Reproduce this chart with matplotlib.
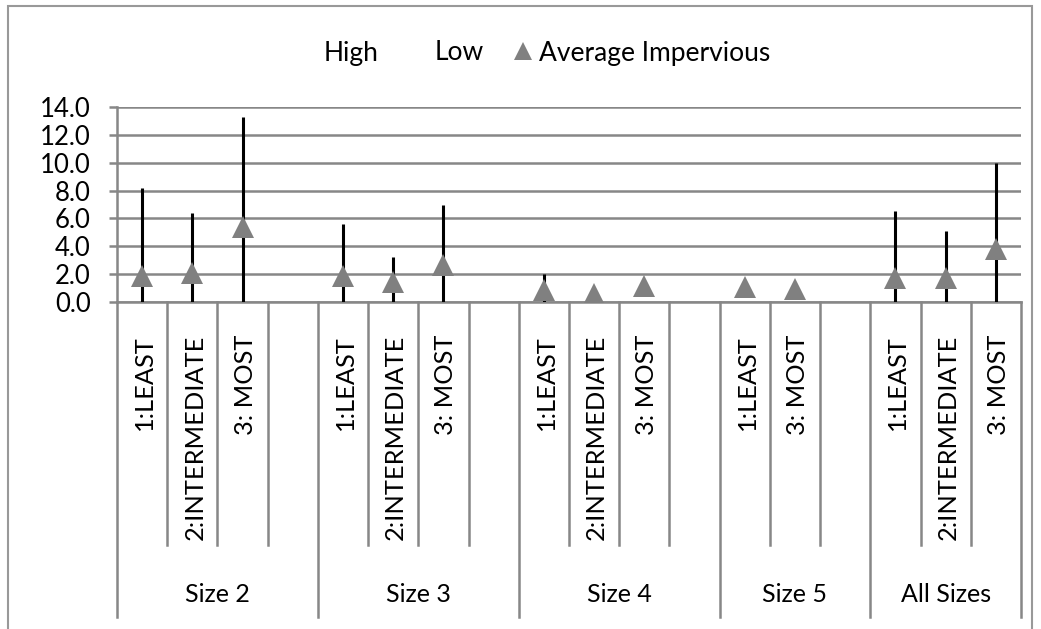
import matplotlib.pyplot as plt
import numpy as np
from matplotlib.lines import Line2D
from matplotlib.patches import Rectangle

plt.rcParams['font.family'] = ['Lato', 'DejaVu Sans']

# 18 category slots, blank slots separate the groups
groups = ["Size 2", "Size 3", "Size 4", "Size 5", "All Sizes"]
group_slots = [4, 4, 4, 3, 3]
labels = ["1:LEAST", "2:INTERMEDIATE", "3: MOST", "",
          "1:LEAST", "2:INTERMEDIATE", "3: MOST", "",
          "1:LEAST", "2:INTERMEDIATE", "3: MOST", "",
          "1:LEAST", "3: MOST", "",
          "1:LEAST", "2:INTERMEDIATE", "3: MOST"]
nan = np.nan
high = [8.2, 6.4, 13.3, nan,
        5.6, 3.2, 7.0, nan,
        2.0, nan, nan, nan,
        nan, nan, nan,
        6.5, 5.1, 10.0]
low = [0.0, 0.0, 0.0, nan,
       0.0, 0.0, 0.0, nan,
       0.0, nan, nan, nan,
       nan, nan, nan,
       0.0, 0.0, 0.0]
avg = [1.9, 2.05, 5.35, nan,
       1.87, 1.46, 2.66, nan,
       0.85, 0.57, 1.17, nan,
       1.08, 0.93, nan,
       1.75, 1.72, 3.78]

grey = "#878787"
x = np.arange(len(labels)) + 0.5

fig = plt.figure(figsize=(10.41, 6.29), dpi=100)
ax = fig.add_axes([117/1041, 1 - 302/629, (1021 - 117)/1041, 195/629])

ax.vlines(x, low, high, color="black", lw=2.2, zorder=3)
ax.plot(x, avg, ls="none", marker="^", ms=15.5, color="#808080", mew=0, zorder=4)

ax.set_xlim(0, len(labels))
ax.set_ylim(0, 14)
ax.set_yticks(np.arange(0, 15, 2))
ax.set_yticklabels([f"{v:.1f}" for v in np.arange(0, 15, 2)], fontsize=18.5)
ax.yaxis.grid(True, color=grey, lw=1.8)
ax.set_axisbelow(True)
ax.tick_params(axis="y", length=6, width=1.8, color=grey, pad=13)
ax.set_xticks([])
for s in ["top", "right"]:
    ax.spines[s].set_visible(False)
for s in ["left", "bottom"]:
    ax.spines[s].set_color(grey)
    ax.spines[s].set_linewidth(1.8)

# two-level category axis
tr = ax.get_xaxis_transform()
inner_bot = -243/195
outer_bot = -315/195
start = 0
for g, n in zip(groups, group_slots):
    ax.plot([start, start], [0, outer_bot], transform=tr, color=grey, lw=1.8, clip_on=False)
    for k in range(1, n):
        ax.plot([start + k, start + k], [0, inner_bot], transform=tr, color=grey, lw=1.8, clip_on=False)
    ax.text(start + n / 2, -292/195, g, transform=tr, ha="center", va="center", fontsize=18)
    start += n
ax.plot([start, start], [0, outer_bot], transform=tr, color=grey, lw=1.8, clip_on=False)
for xi, lab in zip(x, labels):
    ax.text(xi + 0.05, -33/195, lab, transform=tr, rotation=90, ha="center", va="top", fontsize=18.3)

handles = [Line2D([], [], ls="none"), Line2D([], [], ls="none"),
           Line2D([], [], ls="none", marker="^", ms=13, color="#808080", mew=0)]
fig.legend(handles, ["High", "Low", "Average Impervious"], ncol=3, loc="center",
           bbox_to_anchor=(534/1041, 1 - 53/629), frameon=False, fontsize=19,
           handlelength=0.76, handletextpad=0.23, columnspacing=1.12)

fig.patches.append(Rectangle((8/1041, -0.1), (1032 - 8)/1041, 1.1 - 6/629,
                             transform=fig.transFigure, fill=False, ec="#999999", lw=1.5))

fig.savefig("out.png", dpi=100)
